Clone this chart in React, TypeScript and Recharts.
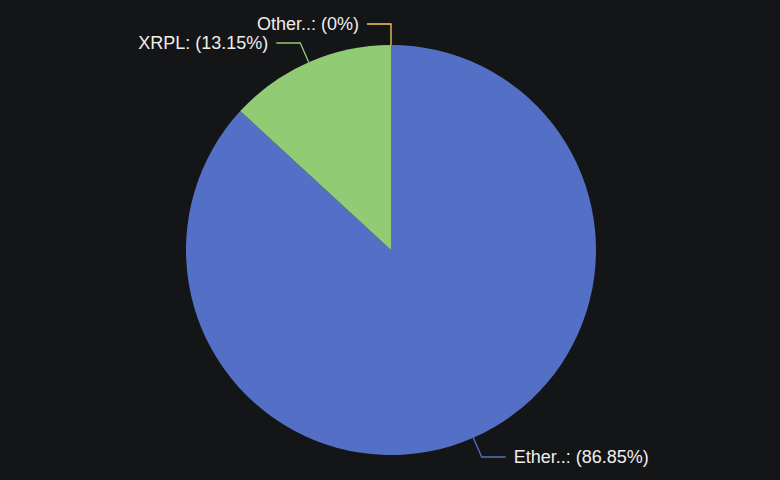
import { PieChart, Pie, Cell } from 'recharts';

const categories = ['Ether..', 'XRPL', 'Other..'];
const shares = [86.85, 13.15, 0];
const colors = ['#5470c6', '#91cc75', '#fac858'];

const data = categories.map((name, i) => ({ name, value: shares[i] }));

const RAD = Math.PI / 180;

// echarts-style label: radial segment, then horizontal segment, then text
function renderLabel(props: any) {
    const { cx, cy, midAngle, outerRadius, index } = props;
    const cos = Math.cos(-midAngle * RAD);
    const sin = Math.sin(-midAngle * RAD);
    const sx = cx + outerRadius * cos;
    const sy = cy + outerRadius * sin;
    const mx = cx + (outerRadius + 21) * cos;
    const my = cy + (outerRadius + 21) * sin;
    const right = cos > 0.01;
    const ex = mx + (right ? 24 : -24);
    const tx = ex + (right ? 8 : -8);
    const color = colors[index];
    return (
        <g key={`lbl-${index}`}>
            <polyline
                points={`${sx},${sy} ${mx},${my} ${ex},${my}`}
                fill="none"
                stroke={color}
                strokeWidth={1.3}
            />
            <text
                x={tx}
                y={my}
                textAnchor={right ? 'start' : 'end'}
                dominantBaseline="central"
                fill="#eeeeee"
                fontSize={18}
                fontFamily="'Liberation Sans', Arial, sans-serif"
            >
                {`${categories[index]}: (${shares[index]}%)`}
            </text>
        </g>
    );
}

export default function App() {
    return (
        <div style={{ position: 'fixed', left: 0, top: 0, width: 780, height: 480, background: '#141517' }}>
            <PieChart width={780} height={480} margin={{ top: 0, right: 0, bottom: 0, left: 0 }}>
                <Pie
                    data={data}
                    dataKey="value"
                    nameKey="name"
                    cx={391}
                    cy={250}
                    outerRadius={205}
                    startAngle={90}
                    endAngle={-270}
                    stroke="none"
                    label={renderLabel}
                    labelLine={false}
                    isAnimationActive={false}
                >
                    {data.map((d, i) => (
                        <Cell key={d.name} fill={colors[i]} />
                    ))}
                </Pie>
            </PieChart>
        </div>
    );
}
